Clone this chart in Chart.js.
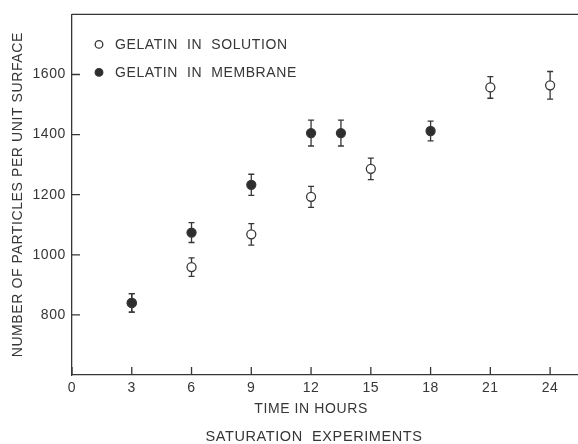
<!DOCTYPE html>
<html>
<head>
<meta charset="utf-8">
<script src="https://cdn.jsdelivr.net/npm/chart.js@4.4.1/dist/chart.umd.min.js"></script>
<style>
  html, body { margin: 0; padding: 0; background: #fff; }
  #wrap { width: 578px; height: 444px; }
</style>
</head>
<body>
<div id="wrap"><canvas id="satChart"></canvas></div>
<script>
// saturation experiments
const hoursSolution = [3, 6, 9, 12, 15, 21, 24];
const countSolution = [840, 959, 1068, 1193, 1286, 1557, 1564];
const errSolution = [31, 31, 36, 35, 36, 36, 46];

const hoursMembrane = [3, 6, 9, 12, 13.5, 18];
const countMembrane = [840, 1074, 1233, 1405, 1405, 1412];
const errMembrane = [31, 33, 35, 43, 43, 33];

const xTicks = [0, 3, 6, 9, 12, 15, 18, 21, 24];
const yTicks = [800, 1000, 1200, 1400, 1600];

const seriesNames = ['GELATIN  IN  SOLUTION', 'GELATIN  IN  MEMBRANE'];
const xTitle = 'TIME IN HOURS';
const yTitle = 'NUMBER OF PARTICLES PER UNIT SURFACE';
const footer = 'SATURATION  EXPERIMENTS';

const ink = '#363636';
const fontFamily = '"Liberation Sans", Arial, sans-serif';

Chart.defaults.font.family = fontFamily;
Chart.defaults.font.size = 14;
Chart.defaults.color = ink;

const toPoints = (xs, ys, errs) => xs.map((x, i) => ({ x, y: ys[i], err: errs[i] }));

const errorBars = {
  id: 'errorBars',
  beforeDatasetsDraw(chart) {
    const { ctx, scales: { x, y } } = chart;
    ctx.save();
    ctx.strokeStyle = ink;
    ctx.lineWidth = 1.3;
    chart.data.datasets.forEach((ds) => {
      ds.data.forEach((p) => {
        const px = x.getPixelForValue(p.x);
        const top = y.getPixelForValue(p.y + p.err);
        const bot = y.getPixelForValue(p.y - p.err);
        ctx.beginPath();
        ctx.moveTo(px, top); ctx.lineTo(px, bot);
        ctx.moveTo(px - 3, top); ctx.lineTo(px + 3, top);
        ctx.moveTo(px - 3, bot); ctx.lineTo(px + 3, bot);
        ctx.stroke();
      });
    });
    ctx.restore();
  }
};

const frame = {
  id: 'frame',
  beforeDraw(chart) {
    chart.ctx.letterSpacing = '0.6px';
  },
  afterDraw(chart) {
    const { ctx, chartArea: area, scales: { x, y } } = chart;
    ctx.save();
    ctx.strokeStyle = ink;
    ctx.fillStyle = ink;
    ctx.lineWidth = 1.3;

    // top rule
    ctx.beginPath();
    ctx.moveTo(area.left, area.top);
    ctx.lineTo(area.right, area.top);
    ctx.stroke();

    // inward tick marks
    ctx.beginPath();
    x.ticks.forEach((t) => {
      const px = x.getPixelForValue(t.value);
      ctx.moveTo(px, area.bottom);
      ctx.lineTo(px, area.bottom - 8);
    });
    y.ticks.forEach((t) => {
      const py = y.getPixelForValue(t.value);
      ctx.moveTo(area.left, py);
      ctx.lineTo(area.left + 8, py);
    });
    ctx.stroke();

    // legend
    ctx.font = '14px ' + fontFamily;
    ctx.textAlign = 'left';
    ctx.textBaseline = 'middle';
    chart.data.datasets.forEach((ds, i) => {
      const ly = area.top + 30 + i * 28;
      const lx = area.left + 27;
      ctx.beginPath();
      ctx.arc(lx, ly, 3.8, 0, Math.PI * 2);
      ctx.fillStyle = ds.backgroundColor;
      ctx.fill();
      ctx.stroke();
      ctx.fillStyle = ink;
      ctx.fillText(ds.label, lx + 16, ly + 1);
    });

    // x title and caption
    ctx.textAlign = 'center';
    const cx = x.getPixelForValue(12);
    ctx.fillText(xTitle, cx, area.bottom + 34);
    ctx.font = '14.5px ' + fontFamily;
    ctx.fillText(footer, cx + 3, area.bottom + 62);
    ctx.restore();
  }
};

new Chart(document.getElementById('satChart'), {
  type: 'scatter',
  data: {
    datasets: [
      {
        label: seriesNames[0],
        data: toPoints(hoursSolution, countSolution, errSolution),
        backgroundColor: '#ffffff',
        borderColor: ink,
        borderWidth: 1.3,
        pointRadius: 4.5,
        order: 1
      },
      {
        label: seriesNames[1],
        data: toPoints(hoursMembrane, countMembrane, errMembrane),
        backgroundColor: '#2e2e2e',
        borderColor: ink,
        borderWidth: 1.3,
        pointRadius: 4.5,
        order: 0
      }
    ]
  },
  options: {
    responsive: true,
    maintainAspectRatio: false,
    animation: false,
    layout: { autoPadding: false, padding: { top: 13, right: 0, bottom: 0, left: 0 } },
    plugins: {
      legend: { display: false },
      tooltip: { enabled: false }
    },
    scales: {
      x: {
        type: 'linear',
        min: 0,
        max: 25.4,
        afterBuildTicks: (scale) => { scale.ticks = xTicks.map((value) => ({ value })); },
        afterFit: (scale) => { scale.height = 69; },
        grid: { display: false, drawTicks: false },
        border: { display: true, color: ink, width: 1.3 },
        ticks: { padding: 5, color: ink, callback: (v) => String(v), maxRotation: 0, autoSkip: false }
      },
      y: {
        type: 'linear',
        min: 600,
        max: 1800,
        afterBuildTicks: (scale) => { scale.ticks = yTicks.map((value) => ({ value })); },
        afterFit: (scale) => { scale.width = 72; },
        grid: { display: false, drawTicks: false },
        border: { display: true, color: ink, width: 1.3 },
        ticks: { padding: 6, color: ink, callback: (v) => String(v) },
        title: {
          display: true,
          text: yTitle,
          color: ink,
          font: { size: 14 },
          padding: { top: 10, bottom: 0 }
        }
      }
    }
  },
  plugins: [errorBars, frame]
});
</script>
</body>
</html>
